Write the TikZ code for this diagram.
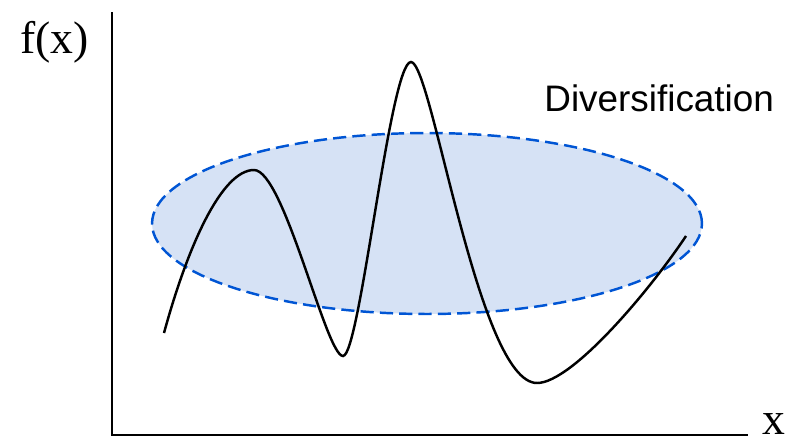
\documentclass[tikz,border=0pt]{standalone}
\usepackage{fontspec}
\setmainfont{Liberation Serif}
\newfontfamily\labelsans{Liberation Sans}
\usepackage{xcolor}
\usetikzlibrary{arrows.meta, positioning, calc}
\definecolor{regionfill}{HTML}{D6E2F5}
\definecolor{regionline}{HTML}{0055D4}

\begin{document}
\begin{tikzpicture}[x=0.02cm, y=-0.02cm,
    % styles for axes, region and curve
    axis/.style={line width=1.3pt, line cap=rect},
    region/.style={draw=regionline, fill=regionfill, line width=1.4pt, dash pattern=on 7.5pt off 3.5pt},
    curve/.style={line width=1.4pt, black},
    axislabel/.style={inner sep=0pt, font=\fontsize{26}{30}\selectfont}]

    \useasboundingbox (0,0) rectangle (793,442);

    % Axes
    \coordinate (ytop) at (112,13);
    \coordinate (origin) at (112,435);
    \coordinate (xend) at (747,435);
    \draw[axis] (ytop) -- (origin) -- (xend);

    % Diversification region
    \draw[region] (427,223.5) ellipse [x radius=5.5cm, y radius=1.81cm];

    % Objective function: peaks and valleys
    \coordinate (c0) at (164,333);
    \coordinate (p1) at (254,170);
    \coordinate (v1) at (343,356);
    \coordinate (p2) at (411,62);
    \coordinate (v2) at (537,383);
    \coordinate (c1) at (686,236);
    \draw[curve] (c0) .. controls (188,245) and (222,170) .. (p1)
        .. controls (284,170) and (326,356) .. (v1)
        .. controls (360,356) and (390,62) .. (p2)
        .. controls (432,62) and (478,383) .. (v2)
        .. controls (572,383) and (650,290) .. (c1);

    % Labels
    \node[axislabel, anchor=base west] (fx) at (20,54) {f(x)};
    \node[axislabel, anchor=base west] (xlab) at (762,434) {x};
    \node[inner sep=0pt, anchor=base west, font=\labelsans\fontsize{21}{25}\selectfont] (div) at (544,112) {Diversification};
\end{tikzpicture}
\end{document}
